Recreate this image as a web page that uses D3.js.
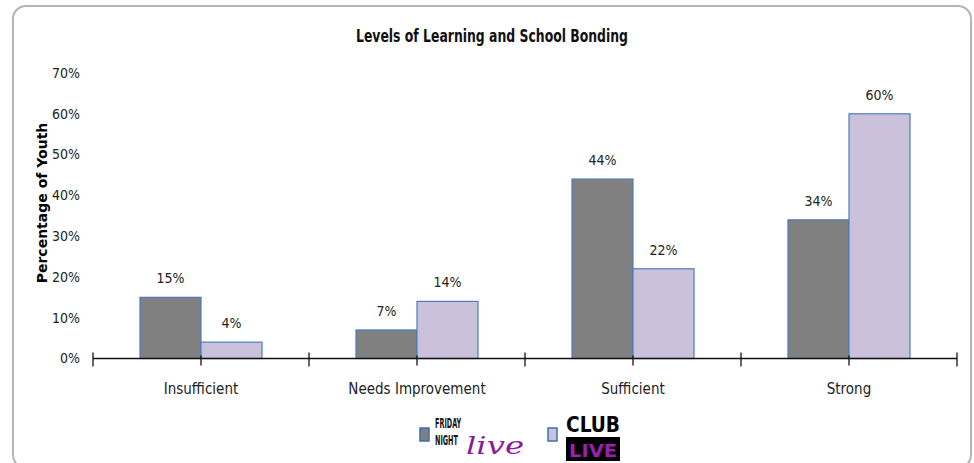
<!DOCTYPE html>
<html>
<head>
<meta charset="utf-8">
<title>Levels of Learning and School Bonding</title>
<style>
  body { margin: 0; background: #fff; }
  text { font-family: 'DejaVu Sans Condensed', 'Liberation Sans Narrow', sans-serif; fill: #222; }
  .ytitle { font-family: 'DejaVu Sans', Verdana, sans-serif; font-weight: bold; font-size: 14px; fill: #000; }
</style>
</head>
<body>
<script src="https://cdn.jsdelivr.net/npm/d3@7"></script>
<script>

var categories = ['Insufficient', 'Needs Improvement', 'Sufficient', 'Strong'];
var series = ['Friday Night Live', 'Club Live'];
var fnlValues = [15, 7, 44, 34];
var clubValues = [4, 14, 22, 60];
var yTicks = [0, 10, 20, 30, 40, 50, 60, 70];

var colors = { 'Friday Night Live': '#808080', 'Club Live': '#ccc1da' };

var width = 974, height = 463;

var svg = d3.select('body').append('svg')
  .attr('width', width)
  .attr('height', height);

// outer frame
svg.append('rect')
  .attr('x', 13).attr('y', 6)
  .attr('width', 958).attr('height', 462)
  .attr('rx', 13).attr('ry', 13)
  .attr('fill', 'none')
  .attr('stroke', '#b4b4b4')
  .attr('stroke-width', 2);

svg.append('text')
  .attr('x', 492).attr('y', 42)
  .attr('text-anchor', 'middle')
  .attr('textLength', 272)
  .attr('lengthAdjust', 'spacingAndGlyphs')
  .style('font-size', '17px')
  .style('font-weight', 'bold')
  .style('fill', '#111')
  .text('Levels of Learning and School Bonding');

var x = d3.scaleBand().domain(categories).range([93, 957]).padding(0);
var x1 = d3.scaleBand().domain(series).range([0, x.bandwidth()]).paddingInner(0).paddingOuter(0.77);
var y = d3.scaleLinear().domain([0, 70]).range([358.5, 73]);

// y tick labels
svg.append('g').selectAll('text')
  .data(yTicks)
  .enter().append('text')
  .attr('x', 80)
  .attr('y', function (d) { return y(d); })
  .attr('dy', '0.35em')
  .attr('text-anchor', 'end')
  .style('font-size', '14px')
  .text(function (d) { return d + '%'; });

svg.append('text')
  .attr('class', 'ytitle')
  .attr('transform', 'translate(47,' + 203 + ') rotate(-90)')
  .attr('text-anchor', 'middle')
  .text('Percentage of Youth');

var rows = categories.map(function (c, i) {
  return { cat: c, vals: [
    { s: series[0], v: fnlValues[i] },
    { s: series[1], v: clubValues[i] }
  ] };
});

var groups = svg.selectAll('g.cat')
  .data(rows)
  .enter().append('g')
  .attr('class', 'cat')
  .attr('transform', function (d) { return 'translate(' + x(d.cat) + ',0)'; });

groups.selectAll('rect')
  .data(function (d) { return d.vals; })
  .enter().append('rect')
  .attr('x', function (d) { return x1(d.s); })
  .attr('y', function (d) { return y(d.v); })
  .attr('width', x1.bandwidth())
  .attr('height', function (d) { return y(0) - y(d.v); })
  .attr('fill', function (d) { return colors[d.s]; })
  .attr('stroke', '#4a7ebb')
  .attr('stroke-width', 1.2);

groups.selectAll('text.val')
  .data(function (d) { return d.vals; })
  .enter().append('text')
  .attr('class', 'val')
  .attr('x', function (d) { return x1(d.s) + x1.bandwidth() / 2; })
  .attr('y', function (d) { return y(d.v) - 14; })
  .attr('text-anchor', 'middle')
  .style('font-size', '14px')
  .text(function (d) { return d.v + '%'; });

// x axis
var axis = svg.append('g').attr('stroke', '#111').attr('stroke-width', 1.3);
axis.append('line')
  .attr('x1', x.range()[0]).attr('x2', x.range()[1])
  .attr('y1', y(0)).attr('y2', y(0));

var bounds = categories.map(function (c) { return x(c); }).concat([x.range()[1]]);
axis.selectAll('line.b')
  .data(bounds)
  .enter().append('line')
  .attr('x1', function (d) { return d; }).attr('x2', function (d) { return d; })
  .attr('y1', y(0) - 6).attr('y2', y(0) + 8);

axis.selectAll('line.c')
  .data(categories)
  .enter().append('line')
  .attr('x1', function (d) { return x(d) + x.bandwidth() / 2; })
  .attr('x2', function (d) { return x(d) + x.bandwidth() / 2; })
  .attr('y1', y(0) - 3).attr('y2', y(0) + 7);

svg.append('g').selectAll('text')
  .data(categories)
  .enter().append('text')
  .attr('x', function (d) { return x(d) + x.bandwidth() / 2; })
  .attr('y', 394)
  .attr('text-anchor', 'middle')
  .style('font-size', '15px')
  .text(function (d) { return d; });

// legend
var legend = svg.append('g');
legend.append('rect')
  .attr('x', 420).attr('y', 428).attr('width', 9).attr('height', 13)
  .attr('fill', colors[series[0]]).attr('stroke', '#3a6fb0').attr('stroke-width', 1.5);
legend.append('text')
  .attr('transform', 'translate(435,428) scale(0.8,1.5)')
  .style('font-size', '9px').style('font-weight', 'bold').style('fill', '#111')
  .text('FRIDAY');
legend.append('text')
  .attr('transform', 'translate(435,445) scale(0.8,1.5)')
  .style('font-size', '9px').style('font-weight', 'bold').style('fill', '#111')
  .text('NIGHT');
legend.append('text')
  .attr('x', 466).attr('y', 454)
  .attr('textLength', 58).attr('lengthAdjust', 'spacingAndGlyphs')
  .style('font-family', "'DejaVu Serif', serif")
  .style('font-style', 'italic')
  .style('font-size', '24px')
  .style('fill', '#8a1a9e')
  .text('live');

legend.append('rect')
  .attr('x', 548).attr('y', 428).attr('width', 9).attr('height', 13)
  .attr('fill', colors[series[1]]).attr('stroke', '#3a6fb0').attr('stroke-width', 1.5);
legend.append('rect')
  .attr('x', 566).attr('y', 437).attr('width', 54).attr('height', 24)
  .attr('fill', '#000');
legend.append('text')
  .attr('x', 566).attr('y', 432)
  .attr('textLength', 54).attr('lengthAdjust', 'spacingAndGlyphs')
  .style('font-size', '22px').style('font-weight', 'bold').style('fill', '#000')
  .text('CLUB');
legend.append('text')
  .attr('x', 569).attr('y', 457)
  .attr('textLength', 48).attr('lengthAdjust', 'spacingAndGlyphs')
  .style('font-size', '18px').style('font-weight', 'bold').style('fill', '#9b1fb0')
  .text('LIVE');

</script>
</body>
</html>
